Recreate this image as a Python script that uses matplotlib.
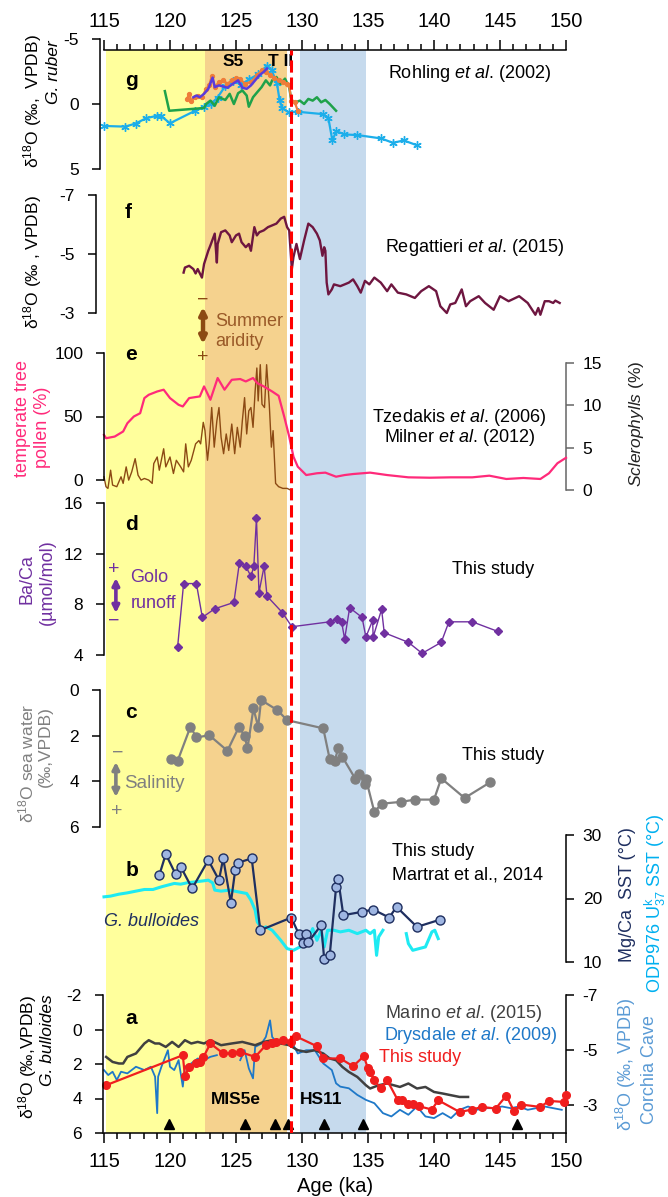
import numpy as np
import matplotlib
matplotlib.use("Agg")
import matplotlib.pyplot as plt
from matplotlib import transforms
from matplotlib.ticker import MultipleLocator

plt.rcParams['font.family'] = ['Liberation Sans', 'DejaVu Sans']
plt.rcParams['mathtext.fontset'] = 'custom'
plt.rcParams['mathtext.rm'] = 'Liberation Sans'
plt.rcParams['mathtext.it'] = 'Liberation Sans:italic'
plt.rcParams['mathtext.bf'] = 'Liberation Sans:bold'
plt.rcParams['axes.unicode_minus'] = False

# ---------------- data ----------------
# interval shading (ka)
yellow_span = (115.16, 122.68)
orange_span = (122.68, 128.87)
blue_span = (129.84, 134.84)
TII_AGE = 129.13

# panel g: G. ruber d18O (Rohling et al. 2002 compilation)
g_lb_age = [115.0, 116.6, 117.4, 118.2, 119.0, 119.3, 120.0, 121.9, 122.6, 123.1, 123.6, 124.2, 124.8, 125.4,
            126.0, 126.7, 127.35, 127.7, 128.1, 128.3, 128.5, 129.0, 129.7, 131.6, 132.0, 132.3, 132.6, 133.2,
            134.2, 136.0, 136.9, 137.7, 138.7]
g_lb_val = [1.69, 1.74, 1.5, 1.09, 0.91, 0.91, 1.48, 0.52, 0.2, 0.0, -0.5, -1.4, -1.8, -1.5,
            -1.9, -2.3, -2.95, -2.6, -1.6, -0.3, 0.3, 0.65, 0.6, 0.78, 1.1, 2.8, 2.08, 2.34,
            2.39, 2.65, 2.99, 2.8, 3.17]
g_gr_age = [119.61, 119.94, 122.58, 122.74, 123.06, 123.39, 123.71, 124.19, 124.52, 124.84, 125.16, 125.48,
            125.81, 125.97, 126.29, 126.61, 126.94, 127.26, 127.58, 127.74, 128.06, 128.39, 128.71, 129.03,
            129.19, 129.52, 129.84, 130.16, 130.48, 130.81, 131.13, 131.45, 131.77, 132.1, 132.58]
g_gr_val = [-0.99, 0.52, 0.31, 0.0, -0.26, 0.13, -0.52, -0.31, -0.78, 0.0, -0.83, -1.04,
            -0.65, 0.21, -0.52, -0.91, -1.3, -1.82, -1.43, -1.82, -2.08, -1.56, -1.95, -1.3,
            -0.26, -0.13, -0.26, 0.0, -0.39, -0.26, -0.52, -0.13, -0.31, 0.0, 0.52]
g_or_age = [121.29, 121.45, 121.61, 121.87, 122.1, 122.42, 122.74, 122.97, 123.16, 123.39, 123.71, 124.03,
            124.35, 124.68, 125.0, 125.32, 125.65, 126.13, 126.61, 126.94, 127.26, 127.58, 127.9, 128.23,
            128.55, 128.87, 129.03, 129.19, 129.45, 129.68]
g_or_val = [-0.39, -0.78, -0.26, -0.52, -0.65, -0.52, -1.17, -1.43, -2.13, -1.3, -1.69, -1.82,
            -1.56, -1.82, -2.03, -1.95, -1.56, -1.69, -2.21, -2.6, -2.47, -2.21, -2.03, -1.82,
            -1.69, -1.56, -1.43, -0.26, -0.13, 0.52]
g_pu_age = [121.77, 122.0, 122.26, 122.58, 122.9, 123.23, 123.39, 123.71, 124.03, 124.35, 124.77, 125.16,
            125.48, 125.81, 126.13, 126.45, 126.77, 127.1, 127.35]
g_pu_val = [-0.52, -0.65, -0.52, -0.78, -1.17, -2.03, -1.3, -1.43, -1.35, -1.25, -1.56, -1.82,
            -1.25, -1.17, -1.43, -1.82, -2.21, -2.47, -2.73]

# panel f: Regattieri et al. (2015)
f_age = [121.03, 121.13, 121.45, 121.77, 121.94, 122.1, 122.42, 122.58, 122.9, 123.06, 123.39, 123.55, 123.61,
         123.87, 124.19, 124.52, 124.68, 125.0, 125.23, 125.42, 125.74, 125.97, 126.13, 126.39, 126.58, 126.77,
         127.1, 127.42, 127.74, 128.06, 128.39, 128.65, 128.87, 129.03, 129.23, 129.35, 129.58, 129.84, 130.16,
         130.48, 130.81, 131.13, 131.35, 131.55, 131.68, 131.77, 131.87, 132.0, 132.26, 132.42, 132.58, 132.9,
         133.23, 133.55, 133.87, 134.19, 134.45, 134.77, 135.1, 135.48, 135.97, 136.45, 136.77, 137.26, 137.9,
         138.55, 139.03, 139.61, 140.16, 140.48, 140.97, 141.23, 141.61, 142.1, 142.42, 142.74, 143.39, 143.87,
         144.52, 145.0, 145.65, 146.45, 147.1, 147.68, 147.9, 148.06, 148.39, 148.71, 149.03, 149.19, 149.52]
f_val = [-4.37, -4.54, -4.6, -4.49, -4.34, -4.49, -4.2, -4.66, -5.11, -5.29, -5.69, -4.71, -5.34,
         -5.74, -5.8, -5.63, -5.4, -5.63, -5.69, -5.4, -5.23, -5.34, -5.11, -5.91, -5.63, -5.74,
         -5.8, -5.91, -5.97, -6.03, -6.2, -6.26, -5.91, -5.8, -4.49, -4.89, -5.34, -4.83, -5.46,
         -6.03, -5.91, -5.69, -5.46, -4.94, -5.23, -5.11, -4.03, -3.63, -3.8, -3.97, -3.95, -3.91,
         -3.97, -4.03, -4.14, -3.91, -3.69, -4.09, -3.97, -4.2, -4.03, -3.74, -3.97, -3.69, -3.63,
         -3.51, -3.74, -3.91, -3.74, -3.23, -3.0, -3.29, -3.34, -3.8, -3.23, -3.4, -3.57, -3.34,
         -3.11, -3.57, -3.4, -3.57, -3.34, -2.94, -3.17, -2.94, -3.4, -3.4, -3.34, -3.42, -3.34]

# panel e: temperate tree pollen (%) and Sclerophylls (%)
e_tree_age = [115.0, 115.16, 115.81, 116.45, 116.77, 117.26, 117.74, 118.06, 118.39, 119.03, 119.52, 120.0,
              120.65, 120.97, 121.45, 121.94, 122.26, 122.58, 123.06, 123.61, 124.13, 124.68, 125.32, 125.74,
              126.29, 126.61, 127.1, 127.74, 128.23, 128.65, 129.03, 129.35, 129.68, 130.32, 131.13, 131.77,
              132.58, 133.23, 133.87, 135.16, 136.45, 138.06, 139.68, 141.29, 142.9, 144.19, 145.48, 146.77,
              148.06, 148.71, 149.35, 150.0]
e_tree_val = [35.5, 32.9, 34.2, 38.2, 44.7, 50.0, 52.6, 64.5, 67.1, 69.7, 71.1, 64.5,
              59.2, 57.9, 64.5, 65.3, 65.8, 73.7, 63.2, 80.3, 71.1, 78.9, 79.5, 77.6,
              80.3, 76.3, 73.7, 69.7, 66.3, 50.0, 34.2, 18.4, 10.5, 3.9, 5.3, 5.8,
              2.6, 3.9, 4.7, 5.8, 3.9, 2.1, 1.8, 2.1, 2.1, 3.4, 0.8, 1.6,
              0.8, 5.3, 13.2, 17.5]
e_scl_age = [115.0, 115.15, 115.3, 115.5, 115.65, 115.97, 116.29, 116.45, 116.68, 116.87, 117.1, 117.36,
             117.58, 117.81, 118.06, 118.39, 118.65, 118.77, 119.03, 119.19, 119.52, 119.68, 120.0, 120.26,
             120.48, 120.81, 121.03, 121.19, 121.39, 121.61, 121.94, 122.19, 122.32, 122.52, 122.65, 122.84,
             122.97, 123.16, 123.35, 123.55, 123.71, 123.87, 124.06, 124.26, 124.45, 124.68, 124.9, 125.1,
             125.32, 125.48, 125.65, 125.81, 125.97, 126.13, 126.29, 126.45, 126.58, 126.68, 126.84, 126.97,
             127.16, 127.32, 127.52, 127.68, 127.81, 128.0, 128.23, 128.55, 128.87, 129.13]
e_scl_val = [1.56, 0.39, 0.19, 2.34, 0.58, 0.39, 1.56, 0.78, 2.73, 1.17, 2.14, 3.7,
             1.75, 1.17, 1.36, 1.17, 0.78, 3.12, 3.9, 2.34, 4.87, 2.73, 3.9, 1.95,
             3.51, 2.73, 2.14, 5.45, 2.73, 3.51, 5.45, 5.84, 5.45, 7.99, 7.01, 3.51,
             5.45, 9.74, 5.06, 8.18, 9.74, 6.23, 4.29, 6.62, 4.67, 7.79, 4.29, 7.4,
             5.06, 8.18, 10.91, 6.62, 9.35, 9.74, 7.4, 11.69, 14.41, 10.52, 14.8, 10.13,
             9.74, 14.8, 10.13, 5.06, 7.01, 0.78, 0.39, 0.19, 0.19, 0.0]

# panel d: Ba/Ca (umol/mol)
d_age = [120.58, 121.03, 122.0, 122.45, 123.39, 124.84, 125.26, 125.74, 126.13, 126.35, 126.55, 126.74,
         127.13, 127.35, 128.52, 129.23, 132.1, 132.68, 133.0, 133.23, 133.61, 134.55, 134.84, 135.35,
         135.39, 136.03, 136.23, 138.06, 139.1, 140.55, 141.13, 142.9, 144.84]
d_val = [4.66, 9.64, 9.64, 6.97, 7.65, 8.15, 11.3, 11.0, 10.22, 11.0, 14.79, 8.93,
         11.0, 8.65, 7.34, 6.23, 6.62, 6.81, 6.62, 5.26, 7.73, 6.97, 5.42, 6.73,
         5.42, 7.6, 5.76, 5.0, 4.13, 5.0, 6.62, 6.62, 5.86]

# panel c: d18O sea water
c_age = [120.1, 120.58, 121.55, 122.0, 122.97, 124.35, 125.23, 125.65, 125.87, 126.32, 126.68, 126.9,
         128.13, 128.87, 131.61, 132.1, 132.48, 132.74, 133.06, 134.03, 134.35, 134.74, 134.84, 135.48,
         136.03, 137.48, 138.58, 140.0, 140.55, 142.32, 144.26]
c_val = [3.0, 3.1, 1.61, 2.08, 1.98, 2.66, 1.61, 2.01, 2.56, 0.81, 1.61, 0.44,
         0.88, 1.32, 1.68, 3.03, 3.1, 2.56, 2.93, 3.88, 3.66, 4.1, 3.88, 5.34,
         4.98, 4.9, 4.8, 4.8, 3.87, 4.73, 4.04]

# panel b: Mg/Ca SST (this study) and ODP976 UK37 SST (Martrat et al., 2014)
b_mg_age = [119.19, 119.68, 120.42, 120.81, 121.68, 122.9, 123.71, 124.03, 124.61, 124.94, 125.16, 126.19,
            126.84, 129.19, 129.74, 130.1, 130.32, 130.48, 131.45, 131.68, 132.1, 132.58, 132.74, 133.13,
            134.52, 135.39, 136.61, 137.16, 138.71, 140.48]
b_mg_val = [23.68, 27.0, 23.84, 25.0, 21.58, 26.05, 22.89, 26.32, 19.32, 24.47, 25.63, 26.32,
            15.0, 17.0, 14.47, 13.0, 14.47, 13.16, 15.79, 10.53, 11.05, 21.74, 23.05, 17.37,
            17.89, 18.26, 17.0, 18.68, 15.53, 16.68]
b_uk_age = [115.0, 115.48, 116.13, 116.77, 117.42, 118.06, 118.71, 119.35, 119.84, 120.32, 120.81, 121.29,
            121.94, 122.58, 122.9, 123.23, 123.39, 123.87, 124.52, 125.16, 125.81, 126.13, 126.45, 126.61,
            126.94, 127.26, 127.74, 128.39, 128.87, 129.35, 129.84, 130.32, 130.81, 131.13, 131.45, 131.68,
            131.94, 132.42, 132.9, 133.55, 134.19, 134.84, 135.16, 135.48, 135.65, 135.81, 136.13, 137.0,
            137.9, 138.06, 138.39, 138.87, 139.35, 139.84, 140.06, 140.32]
b_uk_val = [20.26, 20.37, 20.68, 20.89, 21.16, 21.42, 21.42, 21.84, 22.11, 22.37, 22.26, 22.47,
            22.63, 22.79, 22.89, 22.47, 21.32, 21.16, 21.32, 21.05, 20.79, 19.74, 18.16, 16.32,
            15.26, 15.53, 15.0, 13.42, 12.11, 11.84, 12.37, 12.89, 15.26, 13.42, 15.0, 12.37,
            15.0, 15.0, 14.74, 15.0, 14.47, 15.0, 14.47, 15.0, 11.05, 13.95, 15.0, np.nan,
            14.47, 12.89, 11.84, 12.11, 12.37, 14.74, 15.0, 13.68]

# panel a: G. bulloides d18O (this study), Marino et al. (2015), Corchia Cave (Drysdale et al. 2009)
a_red_age = [115.16, 120.97, 121.13, 121.45, 121.94, 122.26, 122.52, 123.06, 124.03, 124.68, 125.32, 126.45,
             127.26, 127.74, 128.06, 128.55, 129.19, 129.52, 131.13, 131.61, 132.9, 133.87, 134.68, 135.0,
             135.16, 135.48, 135.97, 136.45, 137.26, 137.58, 138.06, 138.39, 138.87, 139.84, 140.32, 141.94,
             142.9, 143.61, 144.68, 145.48, 146.06, 146.61, 148.06, 148.71, 149.84, 150.0]
a_red_val = [3.23, 1.49, 2.71, 2.17, 1.97, 1.88, 1.62, 0.81, 1.39, 1.39, 1.3, 1.59,
             0.91, 0.81, 0.72, 0.62, 0.72, 0.39, 0.97, 1.68, 1.68, 2.13, 1.55, 2.26,
             2.46, 2.94, 3.42, 2.94, 4.1, 4.06, 4.33, 4.29, 4.45, 4.64, 4.1, 4.78,
             4.64, 4.49, 4.58, 3.83, 4.74, 4.35, 4.49, 4.14, 4.2, 3.8]
a_gray_age = [115.16, 115.65, 116.13, 116.45, 116.77, 117.42, 118.06, 118.39, 118.87, 119.19, 119.68, 120.16,
              120.65, 121.13, 121.61, 122.1, 122.58, 123.06, 123.87, 124.68, 125.48, 126.45, 127.1, 127.74,
              128.39, 129.03, 129.68, 130.32, 130.97, 131.61, 132.1, 132.58, 133.06, 133.55, 134.19, 134.84,
              135.16, 135.81, 136.45, 137.42, 138.06, 138.71, 139.35, 140.0, 140.65, 141.29, 141.94, 142.58]
a_gray_val = [1.59, 1.88, 1.97, 1.97, 1.59, 1.39, 0.81, 0.62, 0.81, 0.81, 1.01, 0.72,
              1.01, 0.62, 0.81, 0.72, 0.81, 0.62, 0.91, 0.81, 0.72, 0.91, 0.72, 0.62,
              0.81, 0.91, 1.2, 1.3, 1.2, 1.39, 1.68, 1.78, 2.17, 2.46, 2.75, 3.23,
              3.42, 3.23, 3.13, 3.33, 3.13, 3.42, 3.33, 3.62, 3.71, 3.81, 3.91, 3.91]
a_blue_age = [115.0, 115.32, 115.65, 115.97, 116.29, 116.77, 117.42, 118.06, 118.55, 118.87, 119.03, 119.1,
              119.35, 119.84, 120.0, 120.32, 120.65, 120.97, 121.13, 121.61, 122.1, 122.58, 123.06, 123.55,
              124.4, 125.32, 125.65, 125.97, 126.29, 126.45, 126.94, 127.26, 127.58, 127.74, 128.06, 128.39,
              128.71, 129.35, 129.68, 130.32, 130.97, 131.61, 132.26, 132.58, 132.9, 133.55, 134.19, 134.84,
              135.48, 136.13, 136.77, 137.42, 138.06, 138.71, 139.35, 140.0, 140.65, 141.29, 141.94, 142.58,
              143.23, 143.87, 144.52, 145.16, 145.81, 146.45, 147.1, 147.74, 148.39, 149.03, 149.68]
a_blue_val = [-4.28, -4.1, -4.22, -3.92, -4.22, -4.16, -4.4, -4.28, -4.4, -4.04, -2.72, -4.04,
              -4.4, -5.0, -4.4, -4.28, -4.64, -3.68, -4.4, -4.52, -4.7, -4.64, -4.76, -4.82,
              np.nan, -4.64, -5.0, -4.34, -3.98, -5.12, -5.24, -5.48, -6.08, -5.48, -5.3, -5.24,
              -5.3, -5.18, -4.88, -5.0, -5.0, -4.52, -4.28, -3.8, -3.68, -3.62, -3.38, -3.2,
              -3.08, -2.72, -2.6, -2.84, -2.66, -2.96, -2.6, -2.54, -2.72, -2.54, -2.84, -2.96,
              -2.84, -2.9, -2.9, -2.96, -2.9, -2.96, -2.84, -2.9, -2.96, -2.9, -2.84]
tiepoint_age = [119.94, 125.68, 127.97, 128.97, 131.68, 134.61, 146.32]
tiepoint_val = [5.5, 5.5, 5.5, 5.5, 5.5, 5.5, 5.5]

x_ticks = [115, 120, 125, 130, 135, 140, 145, 150]

# ---------------- colours ----------------
C_YEL, C_ORA, C_BLU = '#FFFF9C', '#F5D28E', '#C6DAED'
C_LB, C_GR, C_OR, C_PU = '#1CAEEA', '#1FA24A', '#EE7D3A', '#5A3BDC'
C_MAROON = '#6E1640'
C_PINK, C_BROWN = '#FF2A7A', '#8C4A14'
C_BACA = '#7030A0'
C_GRAY = '#808080'
C_NAVY, C_CYAN, C_ODP = '#1F2F60', '#1EEAF2', '#00B0F0'
C_RED, C_DGRAY, C_CORCHIA = '#F01E1E', '#404040', '#1E78C8'

# ---------------- layout ----------------
W, H = 668, 1197
fig = plt.figure(figsize=(W / 100, H / 100), dpi=100)
XL, XR = 104, 566


def rect(top, bottom):
    return [XL / W, 1 - bottom / H, (XR - XL) / W, (bottom - top) / H]


def fy(ypx):
    return 1 - ypx / H


def panel(top, bottom, ylim):
    ax = fig.add_axes(rect(top, bottom))
    ax.set_xlim(115, 150)
    ax.set_ylim(*ylim)
    ax.patch.set_visible(False)
    for s in ax.spines.values():
        s.set_visible(False)
    ax.tick_params(axis='x', which='both', bottom=False, top=False, labelbottom=False)
    ax.tick_params(axis='y', which='both', left=False, right=False, labelleft=False, labelright=False)
    return ax


def yaxis(ax, ticks, side='left', offset=0, color='black'):
    ax.spines[side].set_visible(True)
    ax.spines[side].set_position(('outward', offset))
    ax.spines[side].set_linewidth(1.1)
    ax.spines[side].set_color(color)
    ax.set_yticks(ticks)
    if side == 'right':
        ax.tick_params(axis='y', which='major', right=True, labelright=True, direction='out', length=6,
                       width=1.1, labelsize=12.5, pad=6, color=color)
    else:
        ax.tick_params(axis='y', which='major', left=True, labelleft=True, direction='out', length=6,
                       width=1.1, labelsize=12.5, pad=9)


# background with shading and age axes
bg = fig.add_axes(rect(50, 1133))
bg.set_xlim(115, 150)
bg.set_ylim(0, 1)
bg.axvspan(*yellow_span, color=C_YEL, lw=0)
bg.axvspan(*orange_span, color=C_ORA, lw=0)
bg.axvspan(*blue_span, color=C_BLU, lw=0)
bg.spines['left'].set_visible(False)
bg.spines['right'].set_visible(False)
for s in ('top', 'bottom'):
    bg.spines[s].set_linewidth(1.1)
bg.set_yticks([])
bg.set_xticks(x_ticks)
bg.xaxis.set_minor_locator(MultipleLocator(1))
bg.tick_params(axis='x', which='both', direction='out', top=True, bottom=True,
               labeltop=True, labelbottom=True, labelsize=14.5, pad=7, width=1.1)
bg.tick_params(axis='x', which='major', length=7)
bg.tick_params(axis='x', which='minor', length=4)
bg.set_xlabel('Age (ka)', fontsize=14.5, labelpad=4)

blend = transforms.blended_transform_factory(bg.transData, fig.transFigure)


def T(age, ypx, s, **kw):
    kw.setdefault('fontsize', 13)
    kw.setdefault('ha', 'left')
    kw.setdefault('va', 'center')
    bg.text(age, fy(ypx), s, transform=blend, **kw)


def arrow(age, y0, y1, color, lw=3):
    bg.annotate('', xy=(age, fy(y1)), xytext=(age, fy(y0)), xycoords=blend, textcoords=blend,
                arrowprops=dict(arrowstyle='<|-|>', lw=lw, color=color, mutation_scale=10,
                                shrinkA=0, shrinkB=0))


def ylab(xpx, ypx, s, color='black', **kw):
    kw.setdefault('fontsize', 12.5)
    fig.text(xpx / W, fy(ypx), s, rotation=90, ha='center', va='center', color=color, **kw)


# ---- panel g ----
axg = panel(39, 169, (5, -5))
yaxis(axg, [-5, 0, 5], offset=3)
axg.plot(g_lb_age, g_lb_val, color=C_LB, lw=1.6, marker=(6, 2, 0), ms=6, mew=1.0, clip_on=False)
axg.plot(g_gr_age, g_gr_val, color=C_GR, lw=1.8, clip_on=False)
axg.plot(g_or_age, g_or_val, color=C_OR, lw=1.6, marker='o', ms=2.8, clip_on=False)
axg.plot(g_pu_age, g_pu_val, color=C_PU, lw=1.8, clip_on=False)
T(116.6, 80, 'g', fontsize=15, fontweight='bold')
T(124.8, 62, 'S5', fontsize=12.5, fontweight='bold', ha='center')
T(128.4, 62, 'T II', fontsize=12.5, fontweight='bold', ha='center')
T(142.7, 73, 'Rohling $\\it{et\\ al}$. (2002)', ha='center')
ylab(33, 101, 'δ$^{18}$O (‰,  VPDB)')
ylab(53, 72, 'G. ruber', fontstyle='italic')

# ---- panel f ----
axf = panel(195, 313, (-3, -7))
yaxis(axf, [-7, -5, -3], offset=6)
axf.plot(f_age, f_val, color=C_MAROON, lw=1.7, clip_on=False)
T(116.6, 213, 'f', fontsize=15, fontweight='bold')
T(143.1, 248, 'Regattieri $\\it{et\\ al}$. (2015)', ha='center')
ylab(33, 262, 'δ$^{18}$O (‰ , VPDB)')
# summer aridity indicator
T(122.5, 300, '−', color=C_BROWN, ha='center', fontsize=14)
arrow(122.5, 307, 344, C_BROWN, lw=3.2)
T(122.5, 358, '+', color=C_BROWN, ha='center', fontsize=14)
T(123.4, 321, 'Summer', color='#9A5A28', fontsize=13)
T(123.4, 342, 'aridity', color='#9A5A28', fontsize=13)

# ---- panel e ----
axe2 = panel(363, 490, (0, 15))
yaxis(axe2, [0, 5, 10, 15], side='right', color='#666666')
axe2.tick_params(axis='y', labelcolor='black')
axe2.plot(e_scl_age, e_scl_val, color=C_BROWN, lw=1.0, clip_on=False)
axe = panel(353, 480, (0, 100))
yaxis(axe, [0, 50, 100])
axe.plot(e_tree_age, e_tree_val, color=C_PINK, lw=1.6, clip_on=False)
T(116.6, 355, 'e', fontsize=15, fontweight='bold')
T(141.9, 417, 'Tzedakis $\\it{et\\ al}$. (2006)', ha='center')
T(141.9, 437, 'Milner $\\it{et\\ al}$. (2012)', ha='center')
ylab(23, 419, 'temperate tree', color=C_PINK, fontsize=13)
ylab(43, 427, 'pollen (%)', color=C_PINK, fontsize=13)
ylab(636, 424, '$\\it{Sclerophylls}$ (%)', color='#222222')

# ---- panel d ----
axd = panel(503, 655, (4, 16))
yaxis(axd, [4, 8, 12, 16])
axd.plot(d_age, d_val, color=C_BACA, lw=1.0, marker='D', ms=4.2, clip_on=False)
T(116.6, 525, 'd', fontsize=15, fontweight='bold')
T(144.5, 570, 'This study', ha='center')
ylab(27, 579, 'Ba/Ca', color=C_BACA, fontsize=13)
ylab(47, 582, '(µmol/mol)', color=C_BACA, fontsize=13)
T(115.75, 569, '+', color=C_BACA, ha='center', fontsize=14)
arrow(115.9, 578, 613, C_BACA, lw=2.6)
T(115.75, 621, '−', color=C_BACA, ha='center', fontsize=14)
T(117.0, 578, 'Golo', color=C_BACA)
T(117.0, 603, 'runoff', color=C_BACA)

# ---- panel c ----
axc = panel(690, 827, (6, 0))
yaxis(axc, [0, 2, 4, 6], offset=3)
axc.plot(c_age, c_val, color=C_GRAY, lw=1.6, marker='o', ms=6.5, clip_on=False)
T(116.6, 712, 'c', fontsize=15, fontweight='bold')
T(145.2, 755, 'This study', ha='center')
ylab(26, 763, 'δ$^{18}$O sea water', color=C_GRAY, fontsize=12.5)
ylab(45, 747, '(‰,VPDB)', color=C_GRAY, fontsize=12.5)
T(116.0, 753, '−', color=C_GRAY, ha='center', fontsize=14)
arrow(115.9, 762, 797, C_GRAY, lw=2.6)
T(116.0, 812, '+', color=C_GRAY, ha='center', fontsize=14)
T(116.5, 784, 'Salinity', color=C_GRAY, fontsize=13.5)

# ---- panel b ----
axb = panel(835, 962, (10, 30))
yaxis(axb, [10, 20, 30], side='right')
axb.plot(b_uk_age, b_uk_val, color=C_CYAN, lw=2.2, clip_on=False)
axb.plot(b_mg_age, b_mg_val, color=C_NAVY, lw=1.6, marker='o', ms=6.5, mfc='#9FB6E2', mec=C_NAVY,
         mew=1.0, clip_on=False)
T(116.6, 870, 'b', fontsize=15, fontweight='bold')
T(136.8, 852, 'This study')
T(136.8, 875, 'Martrat et al., 2014')
T(115.0, 921, 'G. bulloides', color=C_NAVY, fontstyle='italic')
ylab(628, 895, 'Mg/Ca  SST (°C)', color=C_NAVY, fontsize=13)
ylab(655, 903, 'ODP976 U$^{\\mathrm{k}}_{37}$ SST (°C)', color=C_ODP, fontsize=13)

# ---- panel a ----
axa2 = panel(995, 1133, (-2, -7))
yaxis(axa2, [-7, -5, -3], side='right')
axa2.plot(a_blue_age, a_blue_val, color=C_CORCHIA, lw=1.3, clip_on=False)
axa = panel(995, 1133, (6, -2))
yaxis(axa, [-2, 0, 2, 4, 6], offset=1)
axa.plot(a_gray_age, a_gray_val, color=C_DGRAY, lw=1.8, clip_on=False)
axa.plot(a_red_age, a_red_val, color=C_RED, lw=1.6, marker='o', ms=5.5, clip_on=False)
axa.plot(tiepoint_age, tiepoint_val, ls='none', marker='^', ms=7.5, color='black', clip_on=False)
T(116.6, 1018, 'a', fontsize=15, fontweight='bold')
T(148.2, 1013, 'Marino $\\it{et\\ al}$. (2015)', ha='right', color=C_DGRAY)
T(149.35, 1035, 'Drysdale $\\it{et\\ al}$. (2009)', ha='right', color=C_CORCHIA)
T(135.8, 1058, 'This study', color=C_RED)
T(125.0, 1099, 'MIS5e', fontweight='bold', ha='center', fontsize=12.5)
T(131.45, 1099, 'HS11', fontweight='bold', ha='center', fontsize=12.5)
ylab(28, 1057, 'δ$^{18}$O (‰,VPDB)')
ylab(47, 1040, 'G. bulloides', fontstyle='italic')
ylab(626, 1064, 'δ$^{18}$O (‰, VPDB)', color='#5B9BD5', fontsize=13)
ylab(650, 1070, 'Corchia Cave', color='#5B9BD5', fontsize=13)

# ---- termination II marker on top ----
ov = panel(50, 1133, (0, 1))
ov.axvline(TII_AGE, color='#FF0000', lw=2.2, dashes=(4, 1.6))

fig.savefig('out.png', dpi=100)
